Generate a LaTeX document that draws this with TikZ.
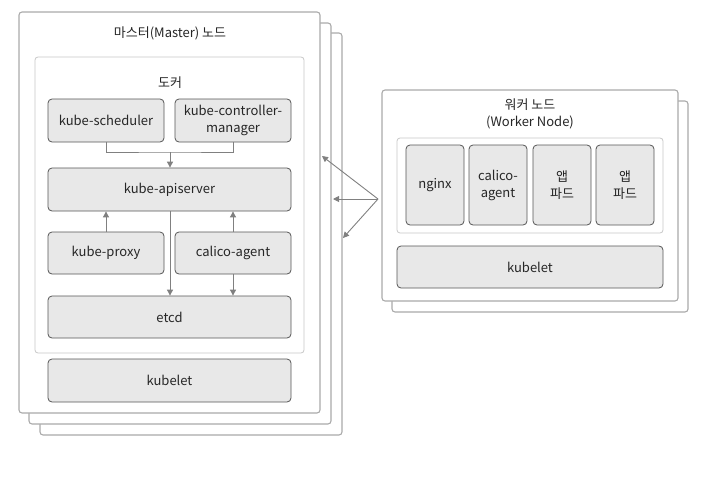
\documentclass[tikz,border=0pt]{standalone}
\usepackage{fontspec}
\setmainfont{Noto Sans CJK KR}
\usetikzlibrary{arrows.meta}
\definecolor{boxfill}{HTML}{E8E8E8}
\definecolor{boxline}{HTML}{555555}
\definecolor{outline}{HTML}{AAAAAA}
\definecolor{innerline}{HTML}{C8C8C8}
\definecolor{arrowc}{HTML}{808080}
\begin{document}
\begin{tikzpicture}[x=1pt,y=-1pt,
  outerbox/.style={draw=outline,line width=1.1pt,fill=white,rounded corners=3pt},
  innerbox/.style={draw=innerline,line width=0.8pt,fill=white,rounded corners=3pt},
  comp/.style={draw=boxline,line width=0.8pt,fill=boxfill,rounded corners=4pt,inner sep=0pt,font=\fontsize{13}{17}\selectfont,text=black!85,align=center},
  lab/.style={font=\fontsize{13}{17}\selectfont,text=black!85,align=center,inner sep=0pt},
  conn/.style={draw=arrowc,line width=0.9pt},
  arr/.style={conn,-{Triangle[length=6pt,width=6pt]}}]
\useasboundingbox (0,0) rectangle (728,479);
% master stack
\draw[outerbox] (40,33) rectangle (342,435);
\draw[outerbox] (29,23) rectangle (331,424);
\draw[outerbox] (19,12) rectangle (320,413);
\node[lab] (mtitle) at (170,33) {마스터(Master) 노드};
\draw[innerbox] (35,57) rectangle (304,353);
\node[lab] (docker) at (170,83) {도커};
\node[comp,minimum width=116pt,minimum height=43pt] (sched) at (106,120.5) {kube-scheduler};
\node[comp,minimum width=116pt,minimum height=43pt] (ctrl) at (233,120.5) {kube-controller-\\manager};
\node[comp,minimum width=243pt,minimum height=43pt] (api) at (169.5,189.5) {kube-apiserver};
\node[comp,minimum width=116pt,minimum height=42pt] (proxy) at (106,253) {kube-proxy};
\node[comp,minimum width=116pt,minimum height=42pt] (calico) at (233,253) {calico-agent};
\node[comp,minimum width=243pt,minimum height=42pt] (etcd) at (169.5,317) {etcd};
\node[comp,minimum width=243pt,minimum height=43pt] (mkubelet) at (169.5,380.5) {kubelet};
\coordinate (j) at (170,152);
\draw[conn] (sched.south) |- (j) -| (ctrl.south);
\draw[arr] (j) -- (api.north -| j);
\draw[arr] (proxy.north) -- (api.south -| proxy.north);
\draw[arr] (calico.north) -- (api.south -| calico.north);
\draw[arr] (api.south -| j) -- (etcd.north -| j);
\draw[arr] (calico.south) -- (etcd.north -| calico.south);
% worker stack
\draw[outerbox] (392,101) rectangle (688,312);
\draw[outerbox] (382,90) rectangle (678,301);
\node[lab] (wtitle) at (530,113.5) {워커 노드\\(Worker Node)};
\draw[innerbox] (397,138) rectangle (663,233);
\node[comp,minimum width=58pt,minimum height=80pt] (nginx) at (435,185) {nginx};
\node[comp,minimum width=58pt,minimum height=80pt] (wcalico) at (498,185) {calico-\\agent};
\node[comp,minimum width=58pt,minimum height=80pt] (app1) at (562,185) {앱\\파드};
\node[comp,minimum width=58pt,minimum height=80pt] (app2) at (625,185) {앱\\파드};
\node[comp,minimum width=266pt,minimum height=42pt] (wkubelet) at (530,267) {kubelet};
% arrows between
\coordinate (src) at (378,199);
\coordinate (t1) at (322,156);
\coordinate (t2) at (333,199);
\coordinate (t3) at (343,238);
\draw[arr] (src) -- (t1);
\draw[arr] (src) -- (t2);
\draw[arr] (src) -- (t3);
\end{tikzpicture}
\end{document}
